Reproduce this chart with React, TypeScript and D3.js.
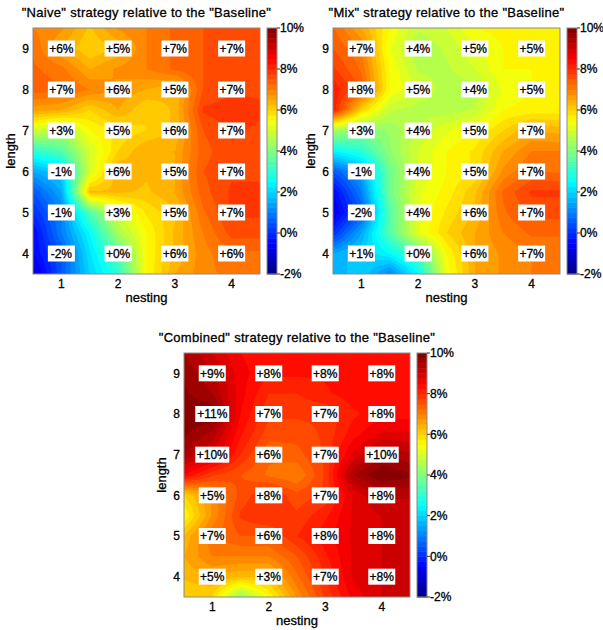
import * as d3 from 'd3'

const nesting = [1, 2, 3, 4]
const lengths = [9, 8, 7, 6, 5, 4]
const cbTicks = [-2, 0, 2, 4, 6, 8, 10]

// printed values, rows = length 9..4, cols = nesting 1..4
const naiveLabels = [[6, 5, 7, 7], [7, 6, 5, 7], [3, 5, 6, 7], [-1, 6, 5, 7], [-1, 3, 5, 7], [-2, 0, 6, 6]]
const mixLabels = [[7, 4, 5, 5], [8, 5, 4, 5], [3, 4, 5, 7], [-1, 4, 5, 7], [-2, 4, 6, 7], [1, 0, 6, 7]]
const combinedLabels = [[9, 8, 8, 8], [11, 7, 7, 8], [10, 6, 7, 10], [5, 8, 7, 8], [7, 6, 8, 8], [5, 3, 7, 8]]

// background surface, every half unit
// rows = length 9.5 .. 3.5, cols = nesting 0.5 .. 4.5
const naiveSurface = [
  [7.0, 6.8, 6.2, 6.8, 7.0, 7.3, 7.5, 7.5, 7.5],
  [7.2, 6.5, 6.0, 6.3, 7.0, 7.3, 7.5, 7.5, 7.5],
  [7.3, 7.1, 6.5, 6.8, 7.0, 7.3, 7.5, 7.6, 7.6],
  [7.4, 7.3, 7.0, 6.7, 6.5, 6.3, 7.5, 7.7, 7.7],
  [6.6, 6.5, 6.0, 6.5, 6.0, 6.3, 7.8, 7.9, 7.8],
  [5.0, 4.5, 5.5, 5.8, 6.0, 6.3, 7.5, 7.8, 7.7],
  [3.0, 3.5, 5.0, 6.0, 6.5, 6.5, 7.4, 7.7, 7.7],
  [1.5, 2.0, 5.0, 6.5, 6.3, 6.5, 7.5, 7.7, 7.7],
  [0.5, 1.5, 6.3, 6.3, 6.2, 6.5, 7.4, 7.8, 7.8],
  [0.0, 1.0, 3.5, 5.0, 5.8, 6.2, 7.2, 7.8, 7.8],
  [-0.5, 1.0, 2.5, 4.5, 5.5, 6.3, 7.0, 7.6, 7.6],
  [-0.5, 0.5, 2.2, 3.5, 5.5, 6.3, 6.9, 7.2, 7.2],
  [-1.0, 0.5, 2.0, 3.0, 5.5, 6.5, 6.9, 7.1, 7.1],
]
const mixSurface = [
  [7.3, 6.5, 5.5, 4.8, 5.0, 5.5, 5.6, 5.6, 5.6],
  [7.5, 7.0, 5.3, 4.5, 4.8, 5.2, 5.5, 5.5, 5.5],
  [7.8, 7.2, 5.5, 4.7, 4.7, 5.0, 5.5, 5.5, 5.5],
  [8.2, 7.5, 5.5, 5.0, 4.6, 4.6, 5.3, 5.5, 5.5],
  [8.2, 6.0, 4.8, 4.6, 4.6, 4.8, 5.5, 5.6, 5.6],
  [4.5, 4.0, 4.3, 4.8, 5.2, 5.5, 6.0, 6.5, 6.4],
  [2.5, 3.0, 4.2, 5.0, 5.5, 5.8, 6.5, 7.0, 7.0],
  [0.5, 1.5, 3.8, 5.0, 5.5, 5.8, 6.8, 7.3, 7.2],
  [-0.5, 1.0, 3.8, 5.2, 5.6, 6.2, 7.3, 7.8, 7.8],
  [-0.8, 0.5, 3.5, 5.2, 5.8, 6.3, 7.2, 7.6, 7.6],
  [0.0, 1.5, 3.5, 5.2, 6.0, 6.5, 7.0, 7.3, 7.3],
  [1.5, 2.0, 2.5, 3.5, 5.5, 6.5, 6.8, 7.0, 7.0],
  [1.5, 2.0, 1.0, 2.5, 5.3, 6.5, 6.8, 7.0, 7.0],
]
const combinedSurface = [
  [9.5, 9.0, 8.5, 8.3, 8.3, 8.3, 8.3, 8.3, 8.3],
  [9.7, 9.3, 8.6, 8.3, 8.3, 8.3, 8.4, 8.4, 8.4],
  [9.8, 9.5, 8.6, 8.0, 8.0, 8.2, 8.4, 8.4, 8.4],
  [10, 10, 8.5, 7.8, 7.8, 7.8, 8.2, 8.4, 8.4],
  [9.8, 9.4, 8.3, 7.6, 7.6, 7.8, 8.4, 8.8, 8.8],
  [9.5, 9.0, 8.0, 7.3, 7.4, 7.8, 8.8, 9.5, 9.3],
  [8.5, 7.8, 7.5, 7.2, 7.0, 7.8, 9.5, 10, 9.8],
  [6.0, 6.8, 7.6, 8.0, 7.6, 7.8, 8.8, 9.3, 9.3],
  [5.5, 6.8, 7.8, 8.0, 7.8, 8.2, 8.8, 9.0, 9.0],
  [6.3, 7.2, 7.5, 7.5, 8.0, 8.4, 8.8, 9.0, 9.0],
  [6.5, 7.0, 7.0, 7.0, 7.5, 8.2, 8.8, 9.0, 9.0],
  [6.3, 6.5, 6.3, 6.3, 7.2, 8.0, 8.8, 9.0, 9.0],
  [6.0, 6.0, 4.2, 5.5, 6.8, 7.8, 8.6, 9.0, 9.0],
]

const FONT = 'Arial, "Liberation Sans", Helvetica, sans-serif'
const STEP = 0.25
const SUB = 8

function jet(v: number) {
  const t = Math.max(0, Math.min(1, (v + 2) / 12))
  const c = (k: number) => Math.max(0, Math.min(1, 1.5 - Math.abs(4 * t - k)))
  return d3.rgb(255 * c(3), 255 * c(2), 255 * c(1)).formatHex()
}

const fmt = (v: number) => (v < 0 ? `${v}%` : `+${v}%`)

function upsample(surface: number[][]) {
  const rows = surface.length, cols = surface[0].length
  const nx = (cols - 1) * SUB + 1, ny = (rows - 1) * SUB + 1
  const values = new Array(nx * ny)
  for (let j = 0; j < ny; j++) {
    const gy = j / SUB, j0 = Math.min(rows - 2, Math.floor(gy)), fy = gy - j0
    for (let i = 0; i < nx; i++) {
      const gx = i / SUB, i0 = Math.min(cols - 2, Math.floor(gx)), fx = gx - i0
      const a = surface[j0][i0], b = surface[j0][i0 + 1]
      const c = surface[j0 + 1][i0], d = surface[j0 + 1][i0 + 1]
      values[j * nx + i] = (a * (1 - fx) + b * fx) * (1 - fy) + (c * (1 - fx) + d * fx) * fy
    }
  }
  return { values, nx, ny }
}

interface PanelProps {
  id: string
  title: string
  labels: number[][]
  surface: number[][]
  left: number
  top: number
  width: number
  height: number
}

function Panel({ id, title, labels, surface, left, top, width, height }: PanelProps) {
  const x = d3.scaleLinear().domain([0.5, 4.5]).range([left, left + width])
  const y = d3.scaleLinear().domain([3.5, 9.5]).range([top + height, top])
  const cb = d3.scaleLinear().domain([-2, 10]).range([top + height, top])
  const cbLeft = left + width + 7
  const cbWidth = 10

  const { values, nx, ny } = upsample(surface)
  const thresholds = d3.range(-2, 10.001, STEP)
  thresholds[0] = -100
  const bands = d3.contours().size([nx, ny]).thresholds(thresholds)(values)
  const gx = d3.scaleLinear().domain([0.5, nx - 0.5]).range([x(0.5), x(4.5)])
  const gy = d3.scaleLinear().domain([0.5, ny - 0.5]).range([y(9.5), y(3.5)])
  const path = d3.geoPath(
    d3.geoTransform({
      point(px: number, py: number) {
        this.stream.point(gx(px), gy(py))
      },
    })
  )

  const cbBands = d3.range(-2, 10, STEP)

  return (
    <g fontFamily={FONT} fill="#000" stroke="#000" strokeWidth={0.3}>
      <defs>
        <clipPath id={`clip-${id}`}>
          <rect x={left} y={top} width={width} height={height} />
        </clipPath>
      </defs>
      <text x={left + width / 2} y={top - 11} textAnchor="middle" fontSize={13} letterSpacing={0.3}>
        {title}
      </text>
      <g clipPath={`url(#clip-${id})`} stroke="none">
        {bands.map((b, k) => (
          <path key={k} d={path(b as any) || ''} fill={jet(k === 0 ? -2 + STEP / 2 : b.value + STEP / 2)} />
        ))}
      </g>
      <rect x={left} y={top} width={width} height={height} fill="none" stroke="#8a8a8a" strokeWidth={1} />

      {labels.map((row, r) =>
        row.map((v, c) => {
          const s = fmt(v)
          const w = s.length * 7 + 6
          const cx = x(nesting[c])
          const cy = y(lengths[r])
          return (
            <g key={`${r}-${c}`}>
              <rect x={cx - w / 2} y={cy - 8} width={w} height={16} fill="#fff" stroke="none" />
              <text x={cx} y={cy} dy="0.36em" textAnchor="middle" fontSize={12}>
                {s}
              </text>
            </g>
          )
        })
      )}

      {lengths.map(l => (
        <text key={l} x={left - 4} y={y(l)} dy="0.36em" textAnchor="end" fontSize={12}>
          {l}
        </text>
      ))}
      {nesting.map(n => (
        <text key={n} x={x(n)} y={top + height + 14} textAnchor="middle" fontSize={12}>
          {n}
        </text>
      ))}
      <text x={left + width / 2} y={top + height + 28} textAnchor="middle" fontSize={13}>
        nesting
      </text>
      <text transform={`translate(${left - 18},${top + height / 2}) rotate(-90)`} textAnchor="middle" fontSize={13}>
        length
      </text>

      <g stroke="none">
        {cbBands.map(v => (
          <rect key={v} x={cbLeft} y={cb(v + STEP)} width={cbWidth} height={cb(v) - cb(v + STEP) + 0.5} fill={jet(v + STEP / 2)} />
        ))}
      </g>
      <rect x={cbLeft} y={top} width={cbWidth} height={height} fill="none" stroke="#8a8a8a" strokeWidth={1} />
      {cbTicks.map(t => (
        <g key={t}>
          <line x1={cbLeft + cbWidth} x2={cbLeft + cbWidth + 3} y1={cb(t)} y2={cb(t)} stroke="#333" strokeWidth={1} />
          <text x={cbLeft + cbWidth + 3} y={cb(t)} dy="0.36em" fontSize={12}>
            {`${t}%`}
          </text>
        </g>
      ))}
    </g>
  )
}

export default function App() {
  return (
    <svg width={603} height={630} style={{ display: 'block', position: 'absolute', left: 0, top: 0 }}>
      <rect width={603} height={630} fill="#fff" />
      <Panel id="naive" title={'"Naive" strategy relative to the "Baseline"'} labels={naiveLabels} surface={naiveSurface} left={33} top={28} width={227} height={246} />
      <Panel id="mix" title={'"Mix" strategy relative to the "Baseline"'} labels={mixLabels} surface={mixSurface} left={333} top={28} width={227} height={246} />
      <Panel id="combined" title={'"Combined" strategy relative to the "Baseline"'} labels={combinedLabels} surface={combinedSurface} left={184} top={353} width={226} height={244} />
    </svg>
  )
}
